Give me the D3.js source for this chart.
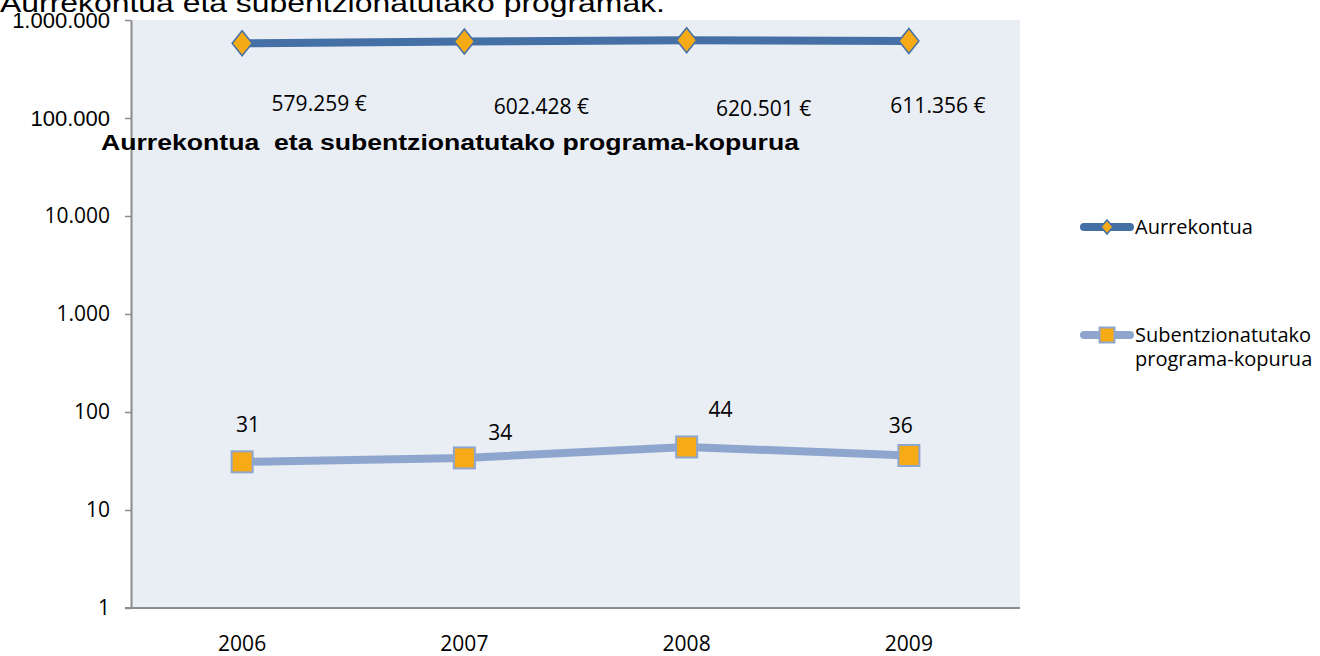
<!DOCTYPE html>
<html>
<head>
<meta charset="utf-8">
<script src="https://cdn.jsdelivr.net/npm/d3@7"></script>
<style>
  body { margin: 0; background: #fff; }
  svg { display: block; }
</style>
</head>
<body>
<div id="chart"></div>
<script>
// data
var years = ["2006", "2007", "2008", "2009"];
var budget = [579259, 602428, 620501, 611356];
var programs = [31, 34, 44, 36];
var budgetLabels = ["579.259 €", "602.428 €", "620.501 €", "611.356 €"];
var tickValues = [1, 10, 100, 1000, 10000, 100000, 1000000];
var tickLabels = ["1", "10", "100", "1.000", "10.000", "100.000", "1.000.000"];
var seriesNames = ["Aurrekontua", "Subentzionatutako programa-kopurua"];

// Excel placed the data labels a bit loosely, offsets from each point
var budgetLabelOffset = [[77, 60], [77, 65], [77, 68], [29, 65]];
var programLabelOffset = [[6, -37], [36, -25], [34, -37], [-8, -30]];

var W = 1320, H = 656;
var plot = {left: 131, right: 1020, top: 20, bottom: 608};
var bodyFont = "'Open Sans', 'Noto Sans', sans-serif";
var arialFont = "'Liberation Sans', Arial, sans-serif";

var svg = d3.select("#chart")
            .append("svg")
            .attr("width", W)
            .attr("height", H);

var x = d3.scaleBand()
          .domain(years)
          .range([plot.left, plot.right]);

var y = d3.scaleLog()
          .domain([1, 1000000])
          .range([plot.bottom, plot.top]);

// plot background
svg.append("rect")
   .attr("x", plot.left)
   .attr("y", plot.top)
   .attr("width", plot.right - plot.left)
   .attr("height", plot.bottom - plot.top)
   .attr("fill", "#E9EDF4");

// y axis
var yAxis = svg.append("g")
   .attr("transform", "translate(" + plot.left + ",0)")
   .call(d3.axisLeft(y).tickValues(tickValues).tickSize(6).tickSizeOuter(0)
          .tickFormat(function(d, i){ return tickLabels[i]; }));
yAxis.select(".domain").attr("stroke", "#8c8c8c").attr("stroke-width", 2);
yAxis.selectAll(".tick line").attr("stroke", "#8c8c8c").attr("stroke-width", 1.5);
yAxis.selectAll(".tick text")
     .attr("x", -21)
     .attr("fill", "#000")
     .style("font-size", function(d){ return d >= 100000 ? "22px" : "21px"; })
     .style("font-family", function(d){ return d >= 100000 ? arialFont : bodyFont; });

// x axis
var xAxis = svg.append("g")
   .attr("transform", "translate(0," + plot.bottom + ")")
   .call(d3.axisBottom(x).tickSize(0).tickSizeOuter(0));
xAxis.select(".domain").attr("stroke", "#8c8c8c").attr("stroke-width", 2)
     .attr("d", "M" + (plot.left - 6) + ",0H" + plot.right);
xAxis.selectAll(".tick text")
     .attr("y", 36)
     .attr("dy", "0.35em")
     .attr("fill", "#000")
     .style("font-size", "21px")
     .style("font-family", bodyFont);

var cx = function(d, i){ return x(years[i]) + x.bandwidth() / 2; };

var line = d3.line()
             .x(function(d, i){ return cx(d, i); })
             .y(function(d){ return y(d); });

// Aurrekontua line
svg.append("path")
   .datum(budget)
   .attr("d", line)
   .attr("fill", "none")
   .attr("stroke", "#4470A6")
   .attr("stroke-width", 8);

// program count line
svg.append("path")
   .datum(programs)
   .attr("d", line)
   .attr("fill", "none")
   .attr("stroke", "#8EA6CE")
   .attr("stroke-width", 8);

function diamond(g, px, py, w, h){
  g.append("path")
   .attr("d", "M" + px + "," + (py - h / 2) + "L" + (px + w / 2) + "," + py +
              "L" + px + "," + (py + h / 2) + "L" + (px - w / 2) + "," + py + "Z")
   .attr("fill", "#F6AA16")
   .attr("stroke", "#4470A6")
   .attr("stroke-width", 1.5);
}

function square(g, px, py, s){
  g.append("rect")
   .attr("x", px - s / 2)
   .attr("y", py - s / 2)
   .attr("width", s)
   .attr("height", s)
   .attr("fill", "#F6AA16")
   .attr("stroke", "#8EA6CE")
   .attr("stroke-width", 2);
}

budget.forEach(function(d, i){
  diamond(svg, cx(d, i), y(d), 20, 25);
});
programs.forEach(function(d, i){
  square(svg, cx(d, i), y(d), 21);
});

// data labels
svg.selectAll(".lblBudget")
   .data(budget)
   .enter().append("text")
   .attr("class", "lblBudget")
   .attr("x", function(d, i){ return cx(d, i) + budgetLabelOffset[i][0]; })
   .attr("y", function(d, i){ return y(d) + budgetLabelOffset[i][1]; })
   .attr("text-anchor", "middle")
   .attr("dy", "0.35em")
   .style("font-family", bodyFont)
   .style("font-size", "21px")
   .text(function(d, i){ return budgetLabels[i]; });

svg.selectAll(".lblProg")
   .data(programs)
   .enter().append("text")
   .attr("class", "lblProg")
   .attr("x", function(d, i){ return cx(d, i) + programLabelOffset[i][0]; })
   .attr("y", function(d, i){ return y(d) + programLabelOffset[i][1]; })
   .attr("text-anchor", "middle")
   .attr("dy", "0.35em")
   .style("font-family", bodyFont)
   .style("font-size", "21px")
   .text(function(d){ return d; });

// titles (the original is stretched sideways, so force the width)
svg.append("text")
   .attr("x", 0)
   .attr("y", 12)
   .attr("textLength", 665)
   .attr("lengthAdjust", "spacingAndGlyphs")
   .style("font-family", arialFont)
   .style("font-size", "26px")
   .text("Aurrekontua eta subentzionatutako programak.");

svg.append("text")
   .attr("x", 101)
   .attr("y", 150)
   .attr("textLength", 698)
   .attr("lengthAdjust", "spacingAndGlyphs")
   .attr("xml:space", "preserve")
   .style("font-family", arialFont)
   .style("font-size", "22px")
   .style("font-weight", "bold")
   .text("Aurrekontua  eta subentzionatutako programa-kopurua");

// legend
var leg = svg.append("g").attr("transform", "translate(1080,0)");
var legY = [227, 335];
var legColor = ["#4470A6", "#8EA6CE"];
legY.forEach(function(ly, i){
  leg.append("line")
     .attr("x1", 4).attr("x2", 50)
     .attr("y1", ly).attr("y2", ly)
     .attr("stroke", legColor[i])
     .attr("stroke-width", 8)
     .attr("stroke-linecap", "round");
});
diamond(leg, 27, legY[0], 12, 14);
square(leg, 27, legY[1], 15);

leg.append("text")
   .attr("x", 55).attr("y", legY[0])
   .attr("dy", "0.35em")
   .style("font-family", bodyFont)
   .style("font-size", "20px")
   .text(seriesNames[0]);

var t2 = leg.append("text")
   .attr("x", 55).attr("y", legY[1])
   .attr("dy", "0.35em")
   .style("font-family", bodyFont)
   .style("font-size", "20px");
t2.append("tspan").attr("x", 55).text("Subentzionatutako");
t2.append("tspan").attr("x", 55).attr("dy", 24).text("programa-kopurua");
</script>
</body>
</html>
